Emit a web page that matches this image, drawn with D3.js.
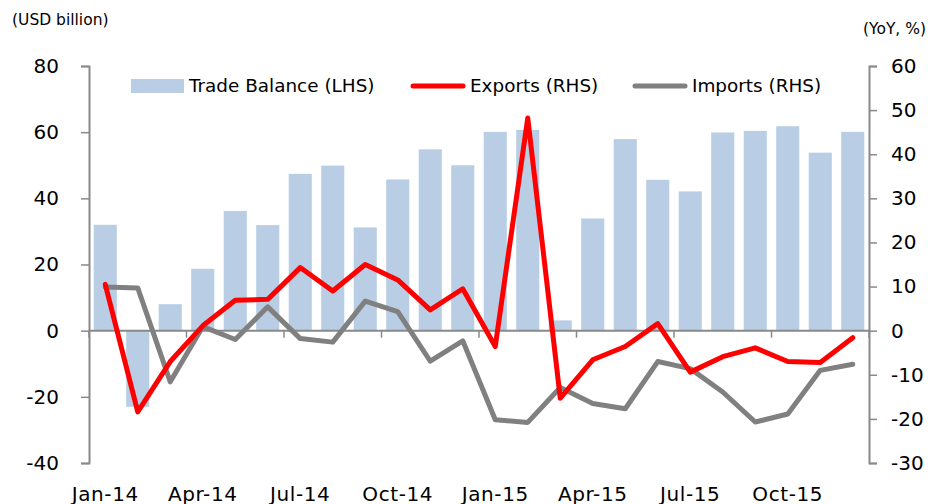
<!DOCTYPE html>
<html>
<head>
<meta charset="utf-8">
<script src="https://cdn.jsdelivr.net/npm/d3@7"></script>
<style>
  body { margin: 0; background: #fff; }
  text { font-family: "DejaVu Sans", Verdana, sans-serif; fill: #000; }
</style>
</head>
<body>
<script>
var width = 928, height = 504;

// monthly categories
var months = ["Jan-14","Feb-14","Mar-14","Apr-14","May-14","Jun-14","Jul-14","Aug-14","Sep-14","Oct-14","Nov-14","Dec-14",
              "Jan-15","Feb-15","Mar-15","Apr-15","May-15","Jun-15","Jul-15","Aug-15","Sep-15","Oct-15","Nov-15","Dec-15"];

// trade balance, USD billion (LHS)
var balance = [32.0, -23.0, 8.0, 18.7, 36.2, 31.9, 47.4, 49.9, 31.2, 45.7, 54.8, 50.0,
               60.1, 60.7, 3.1, 33.9, 57.9, 45.6, 42.1, 59.9, 60.4, 61.8, 53.8, 60.1];

// exports and imports, YoY % (RHS)
var exportsYoY = [10.5, -18.4, -7.0, 1.1, 6.9, 7.1, 14.3, 9.0, 15.0, 11.5, 4.7, 9.5,
                  -3.6, 48.2, -15.3, -6.6, -3.6, 1.6, -9.4, -5.9, -3.9, -7.0, -7.2, -1.6];
var importsYoY = [9.9, 9.7, -11.6, 0.9, -2.0, 5.4, -1.8, -2.6, 6.7, 4.3, -6.9, -2.3,
                  -20.2, -20.8, -12.9, -16.5, -17.7, -7.0, -8.6, -13.9, -20.7, -18.9, -9.0, -7.6];

var leftTicks = [-40, -20, 0, 20, 40, 60, 80];
var rightTicks = [-30, -20, -10, 0, 10, 20, 30, 40, 50, 60];
var labelMonths = ["Jan-14","Apr-14","Jul-14","Oct-14","Jan-15","Apr-15","Jul-15","Oct-15"];

// plot area
var plotL = 89, plotR = 869, plotT = 66, plotB = 463;
var axisColor = "#898989";

var svg = d3.select("body").append("svg")
    .attr("width", width)
    .attr("height", height);

var x = d3.scaleBand().domain(months).range([plotL, plotR]).paddingInner(0.29).paddingOuter(0.145);
var xc = d3.scaleBand().domain(months).range([plotL, plotR]);
var yL = d3.scaleLinear().domain([-40, 80]).range([plotB, plotT]);
var yR = d3.scaleLinear().domain([-30, 60]).range([plotB, plotT]);

// plain hyphen for negatives, like the original
var fmt = function(d) { return String(d); };

// bars
svg.append("g").selectAll("rect")
    .data(balance)
    .enter().append("rect")
    .attr("x", function(d, i) { return x(months[i]); })
    .attr("width", x.bandwidth())
    .attr("y", function(d) { return yL(Math.max(0, d)); })
    .attr("height", function(d) { return Math.abs(yL(d) - yL(0)); })
    .attr("fill", "#B9CDE5");

// zero line with category ticks every 3 months
svg.append("line")
    .attr("x1", plotL).attr("x2", plotR)
    .attr("y1", yL(0)).attr("y2", yL(0))
    .attr("stroke", axisColor).attr("stroke-width", 2);

svg.append("g").selectAll("line")
    .data(d3.range(0, 25, 3))
    .enter().append("line")
    .attr("x1", function(i) { return xc.step() * i + plotL; })
    .attr("x2", function(i) { return xc.step() * i + plotL; })
    .attr("y1", yL(0)).attr("y2", yL(0) + 7)
    .attr("stroke", axisColor).attr("stroke-width", 1.5);

// left axis
var gl = svg.append("g").attr("transform", "translate(" + plotL + ",0)")
    .call(d3.axisLeft(yL).tickValues(leftTicks).tickFormat(fmt).tickSize(8).tickPadding(22));
gl.select(".domain").attr("stroke", axisColor).attr("stroke-width", 2);
gl.selectAll(".tick line").attr("stroke", axisColor).attr("stroke-width", 1.5);
gl.selectAll(".tick text").style("font-size", "20px").attr("font-family", null);

// right axis
var gr = svg.append("g").attr("transform", "translate(" + plotR + ",0)")
    .call(d3.axisRight(yR).tickValues(rightTicks).tickFormat(fmt).tickSize(8).tickPadding(14));
gr.select(".domain").attr("stroke", axisColor).attr("stroke-width", 2);
gr.selectAll(".tick line").attr("stroke", axisColor).attr("stroke-width", 1.5);
gr.selectAll(".tick text").style("font-size", "20px").attr("font-family", null);

// x labels
svg.append("g").selectAll("text")
    .data(labelMonths)
    .enter().append("text")
    .attr("x", function(d) { return xc(d) + xc.bandwidth() / 2; })
    .attr("y", 501)
    .attr("text-anchor", "middle")
    .style("font-size", "20px")
    .style("letter-spacing", "0.6px")
    .text(function(d) { return d; });

// lines
var line = function(scale) {
  return d3.line()
    .x(function(d, i) { return xc(months[i]) + xc.bandwidth() / 2; })
    .y(function(d) { return scale(d); });
};

svg.append("path")
    .datum(importsYoY)
    .attr("d", line(yR))
    .attr("fill", "none").attr("stroke", "#808080").attr("stroke-width", 5)
    .attr("stroke-linejoin", "round").attr("stroke-linecap", "round");

svg.append("path")
    .datum(exportsYoY)
    .attr("d", line(yR))
    .attr("fill", "none").attr("stroke", "#FF0000").attr("stroke-width", 5)
    .attr("stroke-linejoin", "round").attr("stroke-linecap", "round");

// unit labels
svg.append("text").attr("x", 12).attr("y", 25).style("font-size", "15.5px").text("(USD billion)");
svg.append("text").attr("x", 926).attr("y", 34).attr("text-anchor", "end").style("font-size", "15.5px").text("(YoY, %)");

// legend
var legend = svg.append("g").style("font-size", "18.4px");
legend.append("rect").attr("x", 131).attr("y", 79).attr("width", 53).attr("height", 14).attr("fill", "#B9CDE5");
legend.append("text").attr("x", 189).attr("y", 92).text("Trade Balance (LHS)");
legend.append("line").attr("x1", 413).attr("x2", 463).attr("y1", 86).attr("y2", 86)
    .attr("stroke", "#FF0000").attr("stroke-width", 5).attr("stroke-linecap", "round");
legend.append("text").attr("x", 470).attr("y", 92).text("Exports (RHS)");
legend.append("line").attr("x1", 635).attr("x2", 685).attr("y1", 86).attr("y2", 86)
    .attr("stroke", "#808080").attr("stroke-width", 5).attr("stroke-linecap", "round");
legend.append("text").attr("x", 692).attr("y", 92).text("Imports (RHS)");
</script>
</body>
</html>
